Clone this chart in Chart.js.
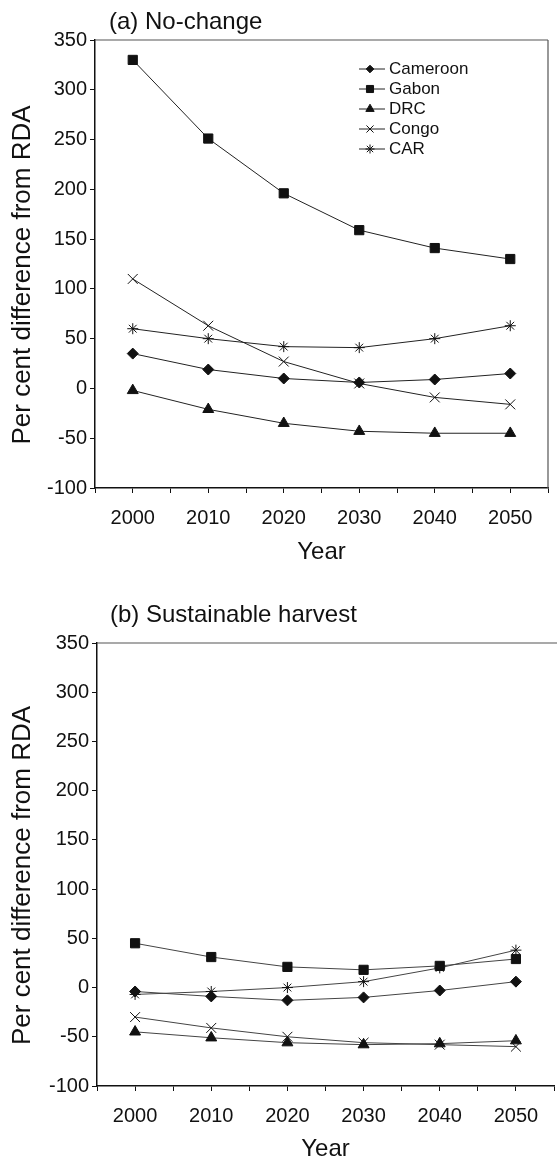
<!DOCTYPE html>
<html>
<head>
<meta charset="utf-8">
<script src="https://cdn.jsdelivr.net/npm/chart.js@4/dist/chart.umd.min.js"></script>
<style>
  html, body { margin:0; padding:0; background:#fff; overflow:hidden; }
  #wrapA { position:absolute; left:0; top:0; width:557px; height:570px; }
  #wrapB { position:absolute; left:0; top:570px; width:562px; height:594px; }
</style>
</head>
<body>
<div id="wrapA"><canvas id="chartA"></canvas></div>
<div id="wrapB"><canvas id="chartB"></canvas></div>
<script>
// data
const years = [2000, 2010, 2020, 2030, 2040, 2050];
const countries = ['Cameroon', 'Gabon', 'DRC', 'Congo', 'CAR'];
const yTicks = [-100, -50, 0, 50, 100, 150, 200, 250, 300, 350];

// (a) No-change
const noChangeCameroon = [35, 19, 10, 6, 9, 15];
const noChangeGabon    = [330, 251, 196, 159, 141, 130];
const noChangeDRC      = [-2, -21, -35, -43, -45, -45];
const noChangeCongo    = [110, 63, 27, 5, -9, -16];
const noChangeCAR      = [60, 50, 42, 41, 50, 63];

// (b) Sustainable harvest
const sustCameroon = [-4, -9, -13, -10, -3, 6];
const sustGabon    = [45, 31, 21, 18, 22, 29];
const sustDRC      = [-45, -51, -56, -58, -57, -54];
const sustCongo    = [-30, -41, -50, -56, -58, -60];
const sustCAR      = [-7, -4, 0, 6, 20, 38];

const markers = ['rectRot', 'rect', 'triangle', 'crossRot', 'star'];
const markerRadius = [5.5, 6.5, 6.3, 7, 5.5];
const legendRadius = [3.8, 5, 4.8, 5, 4.5];
const FONT = "'Liberation Sans', Arial, Helvetica, sans-serif";

function makeSets(series, lineColor){
  return series.map((vals, i) => ({
    label: countries[i],
    data: years.map((yr, j) => ({ x: yr, y: vals[j] })),
    borderColor: lineColor,
    borderWidth: 1,
    pointStyle: markers[i],
    pointRadius: markerRadius[i],
    pointBackgroundColor: '#111',
    pointBorderColor: '#111',
    pointBorderWidth: 1,
    tension: 0,
    fill: false
  }));
}

// frame lines (top / right), panel title and y-axis title
const framePlugin = {
  id: 'frame',
  afterDraw(chart, args, opts){
    const { ctx, chartArea: a } = chart;
    ctx.save();
    ctx.strokeStyle = '#555';
    ctx.lineWidth = 1.2;
    ctx.beginPath();
    ctx.moveTo(a.left, a.top);
    ctx.lineTo(opts.topToEdge ? chart.width : a.right, a.top);
    if(opts.right){ ctx.moveTo(a.right, a.top); ctx.lineTo(a.right, a.bottom); }
    ctx.stroke();
    ctx.fillStyle = '#111';
    ctx.font = '24px ' + FONT;
    ctx.textBaseline = 'alphabetic';
    ctx.fillText(opts.title, opts.titleX, opts.titleY);
    // y title, sits a little below the plot centre as in the original
    ctx.translate(23, (a.top + a.bottom) / 2 + 11);
    ctx.rotate(-Math.PI / 2);
    ctx.font = '26px ' + FONT;
    ctx.textAlign = 'center';
    ctx.textBaseline = 'middle';
    ctx.fillText('Per cent difference from RDA', 0, 0);
    ctx.restore();
  }
};

// legend drawn inside the plot area: line + marker + name
const insideLegend = {
  id: 'insideLegend',
  afterDraw(chart, args, opts){
    if(!opts.show) return;
    const ctx = chart.ctx;
    ctx.save();
    ctx.font = '17px ' + FONT;
    ctx.textBaseline = 'middle';
    chart.data.datasets.forEach((ds, i) => {
      const y = opts.y + i * opts.step;
      ctx.strokeStyle = '#222';
      ctx.lineWidth = 1;
      ctx.beginPath(); ctx.moveTo(opts.x, y); ctx.lineTo(opts.x + 26, y); ctx.stroke();
      ctx.fillStyle = '#111'; ctx.strokeStyle = '#111';
      Chart.helpers.drawPoint(ctx, { pointStyle: ds.pointStyle, radius: legendRadius[i], borderWidth: 1, rotation: 0 }, opts.x + 11, y);
      ctx.fillStyle = '#111';
      ctx.fillText(ds.label, opts.x + 30, y);
    });
    ctx.restore();
  }
};

function makeChart(id, series, cfg){
  return new Chart(document.getElementById(id), {
    type: 'line',
    data: { datasets: makeSets(series, cfg.lineColor) },
    plugins: [framePlugin, insideLegend],
    options: {
      responsive: true,
      maintainAspectRatio: false,
      animation: false,
      layout: { padding: { top: cfg.padTop, right: cfg.padRight, left: 0, bottom: 0 } },
      plugins: {
        legend: { display: false },
        tooltip: { enabled: false },
        frame: { title: cfg.title, titleX: cfg.titleX, titleY: cfg.titleY, right: cfg.right, topToEdge: cfg.topToEdge },
        insideLegend: { show: cfg.legend, x: 359, y: 69, step: 20 }
      },
      scales: {
        x: {
          type: 'linear', min: 1995, max: 2055,
          // fixed height; drop the side padding that the tick padding would add
          afterFit: s => { s.height = cfg.xHeight; s.paddingLeft = 0; s.paddingRight = 0; },
          border: { color: '#111', width: 1.5 },
          grid: { drawOnChartArea: false, drawTicks: true, tickLength: 5, color: '#111' },
          ticks: {
            stepSize: 5, autoSkip: false, maxRotation: 0, padding: 13, color: '#111',
            font: { family: FONT, size: 20 },
            callback: v => (v % 10 === 0 && years.includes(v)) ? String(v) : ''
          },
          title: { display: true, text: 'Year', color: '#111', font: { family: FONT, size: 24 }, padding: { top: 0, bottom: cfg.yearPad } }
        },
        y: {
          min: -100, max: 350,
          afterFit: s => { s.width = cfg.yWidth; },
          afterBuildTicks: s => { s.ticks = yTicks.map(v => ({ value: v })); },
          border: { color: '#111', width: 1.5 },
          grid: { drawOnChartArea: false, drawTicks: true, tickLength: 5, color: '#111' },
          ticks: { padding: 3, color: '#111', font: { family: FONT, size: 20 } },
          title: { display: false }
        }
      }
    }
  });
}

makeChart('chartA',
  [noChangeCameroon, noChangeGabon, noChangeDRC, noChangeCongo, noChangeCAR],
  { title: '(a) No-change', titleX: 109, titleY: 29, padTop: 40, padRight: 9, xHeight: 82, yWidth: 95,
    right: true, topToEdge: false, legend: true, lineColor: '#222', yearPad: 3 });

makeChart('chartB',
  [sustCameroon, sustGabon, sustDRC, sustCongo, sustCAR],
  { title: '(b) Sustainable harvest', titleX: 110, titleY: 52, padTop: 73, padRight: 3, xHeight: 78, yWidth: 97,
    right: false, topToEdge: true, legend: false, lineColor: '#444', yearPad: 0 });
</script>
</body>
</html>
